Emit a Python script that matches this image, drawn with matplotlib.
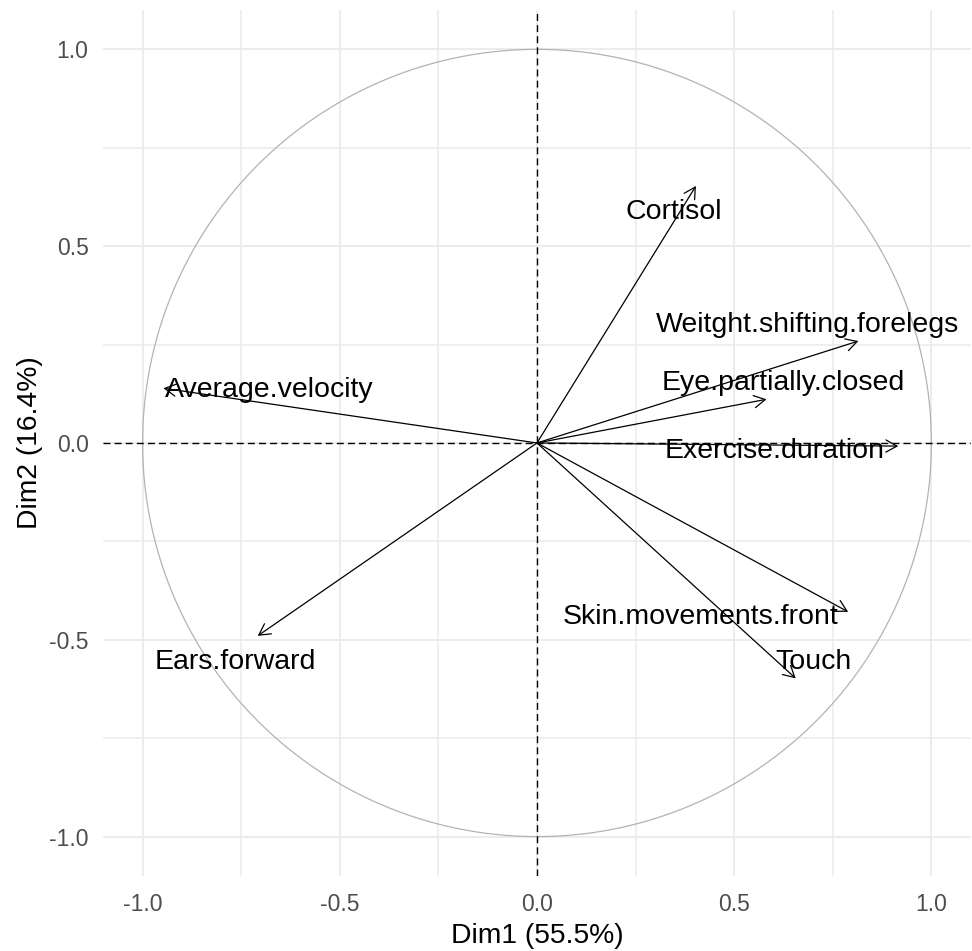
import matplotlib
matplotlib.use("Agg")
import matplotlib.pyplot as plt
import numpy as np

plt.rcParams['font.family'] = ['Liberation Sans', 'DejaVu Sans']
plt.rcParams['axes.unicode_minus'] = False

# variable coordinates on the first two dimensions
variables = ['Cortisol', 'Weitght.shifting.forelegs', 'Eye.partially.closed',
             'Exercise.duration', 'Skin.movements.front', 'Touch',
             'Ears.forward', 'Average.velocity']
dim1 = [0.403, 0.815, 0.582, 0.916, 0.789, 0.656, -0.708, -0.947]
dim2 = [0.653, 0.259, 0.111, -0.008, -0.429, -0.598, -0.490, 0.139]

# where the (repelled) labels ended up, text centre x / baseline y
label_x = [0.346, 0.687, 0.624, 0.602, 0.414, 0.701, -0.765, -0.679]
label_y = [0.568, 0.283, 0.135, -0.039, -0.461, -0.573, -0.574, 0.118]

ticks = [-1.0, -0.5, 0.0, 0.5, 1.0]
minor_ticks = [-0.75, -0.25, 0.25, 0.75]

fig = plt.figure(figsize=(9.72, 9.51), dpi=100)
ax = fig.add_axes([0.1061, 0.0789, 0.8927, 0.9106])

ax.set_xlim(-1.1, 1.1)
ax.set_ylim(-1.1, 1.1)
ax.set_xticks(ticks)
ax.set_yticks(ticks)
ax.set_xticks(minor_ticks, minor=True)
ax.set_yticks(minor_ticks, minor=True)
ax.set_xticklabels([f'{t:.1f}' for t in ticks])
ax.set_yticklabels([f'{t:.1f}' for t in ticks])
ax.grid(which='major', color='#EBEBEB', lw=1.3, zorder=0)
ax.grid(which='minor', color='#EBEBEB', lw=1.1, zorder=0)
ax.set_axisbelow(True)
for s in ax.spines.values():
    s.set_visible(False)
ax.tick_params(which='both', length=0)
ax.tick_params(axis='x', pad=12.5, labelsize=16.5, labelcolor='#4D4D4D')
ax.tick_params(axis='y', pad=10.5, labelsize=16.5, labelcolor='#4D4D4D')

# correlation circle
theta = np.linspace(0, 2 * np.pi, 500)
ax.plot(np.cos(theta), np.sin(theta), color='#B3B3B3', lw=0.9, zorder=1)

ax.axhline(0, color='black', lw=1.0, ls=(0, (5, 3)), zorder=2)
ax.axvline(0, color='black', lw=1.0, ls=(0, (5, 3)), zorder=2)

for name, x, y, lx, ly in zip(variables, dim1, dim2, label_x, label_y):
    ax.annotate('', xy=(x, y), xytext=(0, 0),
                arrowprops=dict(arrowstyle='->,head_length=1.0,head_width=0.55',
                                color='black', lw=0.9, shrinkA=0, shrinkB=0,
                                mutation_scale=8), zorder=3)
    ax.text(lx, ly, name, ha='center', va='baseline', fontsize=20.5,
            color='black', zorder=4)

ax.set_xlabel('Dim1 (55.5%)', fontsize=20.3, labelpad=4.5)
ax.set_ylabel('Dim2 (16.4%)', fontsize=20.3, labelpad=4)

fig.savefig('out.png', dpi=100)
